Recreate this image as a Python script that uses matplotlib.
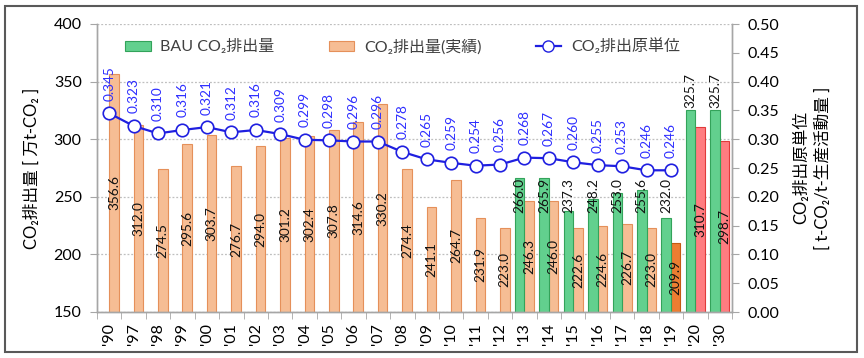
import matplotlib
matplotlib.use("Agg")
import matplotlib.pyplot as plt
from matplotlib.patches import Patch, Rectangle
from matplotlib.lines import Line2D
import numpy as np

plt.rcParams['font.family'] = ['Lato', 'Noto Sans CJK JP', 'DejaVu Sans']

years = ["'90", "'97", "'98", "'99", "'00", "'01", "'02", "'03", "'04", "'05",
         "'06", "'07", "'08", "'09", "'10", "'11", "'12", "'13", "'14", "'15",
         "'16", "'17", "'18", "'19", "'20", "'30"]
actual = [356.6, 312.0, 274.5, 295.6, 303.7, 276.7, 294.0, 301.2, 302.4, 307.8,
          314.6, 330.2, 274.4, 241.1, 264.7, 231.9, 223.0, 246.3, 246.0, 222.6,
          224.6, 226.7, 223.0, 209.9, 310.7, 298.7]
bau = [None] * 17 + [266.0, 265.9, 237.3, 248.2, 253.0, 255.6, 232.0, 325.7, 325.7]
ratio = [0.345, 0.323, 0.310, 0.316, 0.321, 0.312, 0.316, 0.309, 0.299, 0.298,
         0.296, 0.296, 0.278, 0.265, 0.259, 0.254, 0.256, 0.268, 0.267, 0.260,
         0.255, 0.253, 0.246, 0.246]

C_ORANGE = '#F6BD94'
C_ORANGE_E = '#E5905A'
C_DORANGE = '#ED7D31'
C_DORANGE_E = '#C55A11'
C_RED = '#FF7C80'
C_RED_E = '#E03A3A'
C_GREEN = '#62D08E'
C_GREEN_E = '#33A35A'
C_BLUE = '#1F1FE0'
C_LBLUE = '#2E2EFF'

fig = plt.figure(figsize=(8.64, 3.58), dpi=100)
ax = fig.add_axes([97/864, 1-312/358, (732-97)/864, (312-24)/358])
ax2 = ax.twinx()

n = len(years)
x = np.arange(n)
w = 0.39

# actual bars
act_face = []
act_edge = []
for i in range(n):
    if years[i] in ("'20", "'30"):
        act_face.append(C_RED); act_edge.append(C_RED_E)
    elif years[i] == "'19":
        act_face.append(C_DORANGE); act_edge.append(C_DORANGE_E)
    else:
        act_face.append(C_ORANGE); act_edge.append(C_ORANGE_E)

ax.bar(x + w/2, actual, width=w, color=act_face, edgecolor=act_edge, linewidth=0.8, zorder=2)

bx = [i for i in range(n) if bau[i] is not None]
bv = [bau[i] for i in bx]
ax.bar(np.array(bx) - w/2, bv, width=w, color=C_GREEN, edgecolor=C_GREEN_E, linewidth=0.8, zorder=2)

ymin = 150
for i in range(n):
    ax.text(x[i] + w/2, (ymin + actual[i]) / 2, f"{actual[i]:.1f}", rotation=90,
            ha='center', va='center', fontsize=9.8, color='#111111', zorder=5)
for i, v in zip(bx, bv):
    if years[i] in ("'20", "'30"):
        ax.text(i - w/2, v + 1.0, f"{v:.1f}", rotation=90, ha='center', va='bottom',
                fontsize=9.8, color='#111111', zorder=5)
    else:
        ax.text(i - w/2, 266, f"{v:.1f}", rotation=90, ha='center', va='top',
                fontsize=9.8, color='#111111', zorder=5)

ax.set_xlim(-0.5, n - 0.5)
ax.set_ylim(150, 400)
ax.set_yticks([150, 200, 250, 300, 350, 400])
ax.yaxis.grid(True, linestyle=(0, (1.5, 1.5)), color='#BFBFBF', linewidth=0.9, zorder=0)
ax.set_axisbelow(True)
ax.set_xticks(x)
ax.set_xticklabels(years, rotation=90, fontsize=11.5)
ax.tick_params(axis='x', length=0, pad=8)
ax.set_xticks(np.arange(-0.5, n, 1.0), minor=True)
ax.tick_params(axis='x', which='minor', length=5, color='#A6A6A6', direction='out')
ax.tick_params(axis='y', labelsize=11.5, length=5, color='#A6A6A6', pad=6)

for sp in ['top']:
    ax.spines[sp].set_visible(False)
    ax2.spines[sp].set_visible(False)
for a in (ax, ax2):
    for sp in ['left', 'right', 'bottom']:
        a.spines[sp].set_color('#A6A6A6')
        a.spines[sp].set_linewidth(1.0)

ax.set_ylabel("CO₂排出量 [ 万t-CO₂ ]", fontsize=12, labelpad=10)

# ratio line
rx = np.arange(len(ratio))
ax2.plot(rx, ratio, color=C_BLUE, linewidth=1.6, marker='o', markersize=9,
         markerfacecolor='white', markeredgecolor=C_BLUE, markeredgewidth=1.2, zorder=4)
for i, r in enumerate(ratio):
    ax2.annotate(f"{r:.3f}", (rx[i], r), xytext=(0, 9), textcoords='offset points',
                 rotation=90, ha='center', va='bottom', fontsize=9.8, color=C_LBLUE)
ax2.set_ylim(0, 0.5)
ax2.set_yticks(np.arange(0, 0.501, 0.05))
ax2.set_yticklabels([f"{v:.2f}" for v in np.arange(0, 0.501, 0.05)])
ax2.tick_params(axis='y', labelsize=11.5, length=5, color='#A6A6A6', pad=6)
ax2.set_ylabel("CO₂排出原単位\n[ t-CO₂/t-生産活動量 ]", fontsize=12, labelpad=10,
               linespacing=1.4, rotation=90)

handles = [Patch(facecolor=C_GREEN, edgecolor=C_GREEN_E, linewidth=0.8),
           Patch(facecolor=C_ORANGE, edgecolor=C_ORANGE_E, linewidth=0.8),
           Line2D([], [], color=C_BLUE, linewidth=1.6, marker='o', markersize=8,
                  markerfacecolor='white', markeredgecolor=C_BLUE)]
labels = ["BAU CO₂排出量", "CO₂排出量(実績)", "CO₂排出原単位"]
leg = ax2.legend(handles, labels, ncol=3, loc='upper center', bbox_to_anchor=(0.481, 1.0),
                 frameon=False, fontsize=11.5, handlelength=1.6, handleheight=0.6,
                 columnspacing=3.4, handletextpad=0.6)
for t in leg.get_texts():
    t.set_color('#404040')

fig.patches.append(Rectangle((5/864, 1-352/358), 852/864, 346/358, transform=fig.transFigure,
                             fill=False, edgecolor='#595959', linewidth=1.5))

fig.savefig("out.png", dpi=100)
